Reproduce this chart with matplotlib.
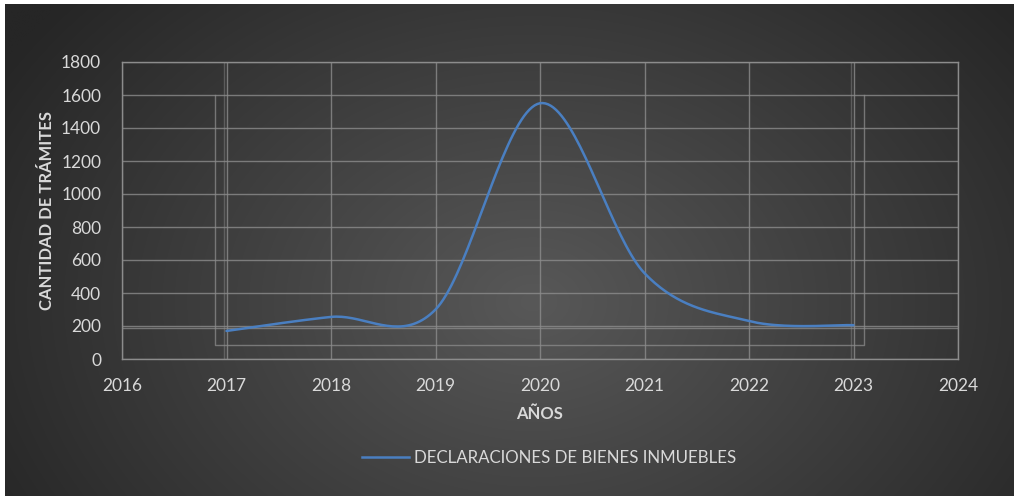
import numpy as np
import matplotlib
matplotlib.use("Agg")
import matplotlib.pyplot as plt
from matplotlib.lines import Line2D

years = [2017, 2018, 2019, 2020, 2021, 2022, 2023]
values = [170, 255, 300, 1550, 520, 230, 205]
series_name = "DECLARACIONES DE BIENES INMUEBLES"
x_label = "AÑOS"
y_label = "CANTIDAD DE TRÁMITES"
x_ticks = [2016, 2017, 2018, 2019, 2020, 2021, 2022, 2023, 2024]
y_ticks = [0, 200, 400, 600, 800, 1000, 1200, 1400, 1600, 1800]

FONT = ["Lato", "DejaVu Sans"]
TXT = "#d9d9d9"
GRID = "#8c8c8c"


def smooth(xs, ys, n=40):
    xs = np.asarray(xs, float)
    ys = np.asarray(ys, float)
    px, py = [], []
    m = len(xs)
    for i in range(m - 1):
        i0 = max(i - 1, 0)
        i3 = min(i + 2, m - 1)
        c1x = xs[i] + (xs[i + 1] - xs[i0]) / 6
        c1y = ys[i] + (ys[i + 1] - ys[i0]) / 6
        c2x = xs[i + 1] - (xs[i3] - xs[i]) / 6
        c2y = ys[i + 1] - (ys[i3] - ys[i]) / 6
        t = np.linspace(0, 1, n)
        bx = (1 - t) ** 3 * xs[i] + 3 * (1 - t) ** 2 * t * c1x + 3 * (1 - t) * t ** 2 * c2x + t ** 3 * xs[i + 1]
        by = (1 - t) ** 3 * ys[i] + 3 * (1 - t) ** 2 * t * c1y + 3 * (1 - t) * t ** 2 * c2y + t ** 3 * ys[i + 1]
        px.extend(bx)
        py.extend(by)
    return np.array(px), np.array(py)


W, H = 1014, 496
fig = plt.figure(figsize=(W / 100, H / 100), dpi=100, facecolor="white")

# background with radial gradient
bg = fig.add_axes([5 / W, 0, 1 - 5 / W, 1 - 4 / H])
bg.set_axis_off()
yy, xx = np.mgrid[0:H, 0:W]
r = np.sqrt(((xx - 530) / 1.0) ** 2 + ((yy - 300) / 0.75) ** 2)
f = np.clip(r / 620, 0, 1)
c0 = np.array([0x58, 0x58, 0x58]) / 255
c1 = np.array([0x26, 0x26, 0x26]) / 255
img = c0[None, None, :] * (1 - f[..., None]) + c1[None, None, :] * f[..., None]
bg.imshow(img, aspect="auto", extent=[0, 1, 0, 1], origin="upper")

ax = fig.add_axes([122 / W, 1 - 359 / H, (958 - 122) / W, (359 - 62) / H])
ax.set_facecolor("none")
ax.set_xlim(2016, 2024)
ax.set_ylim(0, 1800)
ax.set_xticks(x_ticks)
ax.set_yticks(y_ticks)
ax.grid(True, color=GRID, linewidth=1.0, alpha=0.8)
ax.set_axisbelow(True)
for s in ax.spines.values():
    s.set_color(GRID)
    s.set_linewidth(1.0)
ax.tick_params(colors=TXT, length=0, labelsize=12.5)
ax.tick_params(axis="y", pad=15)
ax.tick_params(axis="x", pad=14)
for lab in ax.get_xticklabels() + ax.get_yticklabels():
    lab.set_family(FONT)

# ghost overlay frame (duplicate chart outline seen in the image)
gk = dict(color=GRID, linewidth=1.0, alpha=0.75, zorder=1)
ax.plot([2016.89, 2016.89, 2023.1, 2023.1], [1600, 85, 85, 1600], **gk)
ax.plot([2016, 2024], [188, 188], **gk)
gk2 = dict(color=GRID, linewidth=1.0, alpha=0.45, zorder=1)
ax.plot([2016.98, 2016.98], [0, 1800], **gk2)
ax.plot([2022.98, 2022.98], [0, 1800], **gk2)

sx, sy = smooth(years, values)
ax.plot(sx, sy, color="#4a7fc1", linewidth=1.8, solid_capstyle="round", zorder=3)

ax.set_xlabel(x_label, color=TXT, fontsize=12, fontweight="bold", family=FONT, labelpad=8)
ax.set_ylabel(y_label, color=TXT, fontsize=12, fontweight="bold", family=FONT, labelpad=4)

handle = Line2D([], [], color="#4a7fc1", linewidth=1.8)
fig.legend([handle], [series_name], loc="center", bbox_to_anchor=(549 / W, 1 - 458 / H),
           frameon=False, prop={"family": FONT, "size": 12.2}, labelcolor=TXT,
           handlelength=2.8, handletextpad=0.3)

fig.savefig("out.png", dpi=100, facecolor="white")
